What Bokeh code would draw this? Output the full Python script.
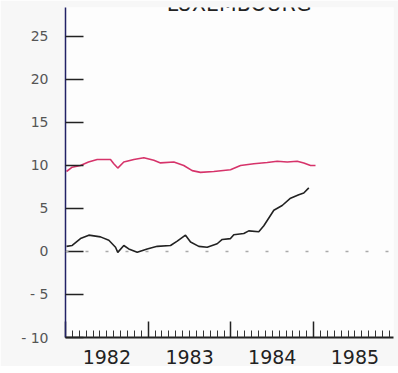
from bokeh.plotting import figure
from bokeh.models import (Range1d, FixedTicker, LinearAxis, Span, Label)
from bokeh.embed import file_html
from bokeh.resources import INLINE

# ---- data ----
title_text = "LUXEMBOURG"

red_x = [1982.012, 1982.081, 1982.181, 1982.278, 1982.383, 1982.544, 1982.584, 1982.632,
         1982.705, 1982.826, 1982.947, 1983.068, 1983.149, 1983.310, 1983.430, 1983.532,
         1983.632, 1983.793, 1983.995, 1984.116, 1984.277, 1984.439, 1984.560, 1984.681,
         1984.802, 1984.881, 1984.963, 1985.023]
red_y = [9.3, 9.8, 10.0, 10.4, 10.7, 10.7, 10.2, 9.7,
         10.4, 10.7, 10.9, 10.6, 10.3, 10.4, 10.0, 9.4,
         9.2, 9.3, 9.5, 10.0, 10.2, 10.35, 10.5, 10.4,
         10.5, 10.3, 10.0, 10.0]

black_x = [1982.012, 1982.081, 1982.181, 1982.282, 1982.423, 1982.524, 1982.605, 1982.632,
           1982.705, 1982.765, 1982.867, 1982.988, 1983.109, 1983.270, 1983.351, 1983.451,
           1983.512, 1983.612, 1983.713, 1983.834, 1983.895, 1983.995, 1984.035, 1984.156,
           1984.216, 1984.337, 1984.398, 1984.519, 1984.620, 1984.721, 1984.821, 1984.881,
           1984.942]
black_y = [0.6, 0.7, 1.5, 1.9, 1.7, 1.3, 0.5, -0.1,
           0.7, 0.3, -0.1, 0.3, 0.6, 0.7, 1.2, 1.9,
           1.1, 0.6, 0.5, 0.9, 1.4, 1.5, 1.95, 2.1,
           2.4, 2.3, 3.0, 4.8, 5.35, 6.2, 6.6, 6.8,
           7.4]

y_ticks = [-10, -5, 0, 5, 10, 15, 20, 25]
y_tick_labels = ["- 10", "- 5", "0", "5", "10", "15", "20", "25"]
year_ticks = [1982, 1983, 1984, 1985, 1986]
month_ticks = [y + m / 12 for y in [1982, 1983, 1984, 1985] for m in range(1, 12)]
year_label_pos = [1982.5, 1983.5, 1984.5, 1985.5]
year_labels = ["1982", "1983", "1984", "1985"]

# ---- figure ----
p = figure(output_backend="svg", toolbar_location=None,
           frame_width=328, frame_height=330,
           x_range=Range1d(1982.0, 1985.966), y_range=Range1d(-10, 28.37),
           min_border_left=65, min_border_right=5, min_border_top=7, min_border_bottom=0,
           x_axis_type=None, y_axis_type=None)
p.outline_line_color = None
p.grid.visible = False
p.background_fill_color = "#fdfdfd"
p.border_fill_color = "#f7f7f7"

# y axis
yax = LinearAxis(ticker=FixedTicker(ticks=y_ticks, minor_ticks=[]))
yax.major_label_overrides = {t: s for t, s in zip(y_ticks, y_tick_labels)}
yax.axis_line_color = "#222266"
yax.axis_line_width = 1.5
yax.major_tick_in = 18
yax.major_tick_out = 0
yax.major_tick_line_color = "#222222"
yax.major_tick_line_width = 1.5
yax.major_label_standoff = 17
yax.major_label_text_font = "DejaVu Sans"
yax.major_label_text_font_size = "14px"
yax.major_label_text_color = "#555555"
p.add_layout(yax, "left")

# x axis: ticks only
xax = LinearAxis(ticker=FixedTicker(ticks=year_ticks, minor_ticks=month_ticks))
xax.major_label_overrides = {t: "" for t in year_ticks}
xax.major_label_text_font_size = "1px"
xax.major_label_standoff = 0
xax.axis_line_color = "#222222"
xax.axis_line_width = 2
xax.major_tick_in = 16
xax.major_tick_out = 0
xax.major_tick_line_color = "#222222"
xax.major_tick_line_width = 1.5
xax.minor_tick_in = 7
xax.minor_tick_out = 0
xax.minor_tick_line_color = "#333333"
xax.minor_tick_line_width = 1
p.add_layout(xax, "below")

# x axis: year labels centred in each year
xlab = LinearAxis(ticker=FixedTicker(ticks=year_label_pos, minor_ticks=[]))
xlab.major_label_overrides = {t: s for t, s in zip(year_label_pos, year_labels)}
xlab.axis_line_color = None
xlab.major_tick_line_color = None
xlab.minor_tick_line_color = None
xlab.major_tick_out = 0
xlab.major_tick_in = 0
xlab.major_label_standoff = 12
xlab.major_label_text_font = "DejaVu Sans"
xlab.major_label_text_font_size = "19px"
xlab.major_label_text_color = "#222222"
p.add_layout(xlab, "below")

# zero line
p.add_layout(Span(location=0, dimension="width", line_color="#aaaaaa",
                  line_width=1.5, line_dash="3 17"))

p.line(red_x, red_y, line_color="#d6336a", line_width=1.6)
p.line(black_x, black_y, line_color="#222222", line_width=1.6)

p.add_layout(Label(x=1984.1, y=28.75, text=title_text, text_align="center",
                   text_baseline="alphabetic", text_font="DejaVu Sans",
                   text_font_size="20.5px", text_color="#222222"))

open("out.html", "w").write(file_html(p, INLINE))
